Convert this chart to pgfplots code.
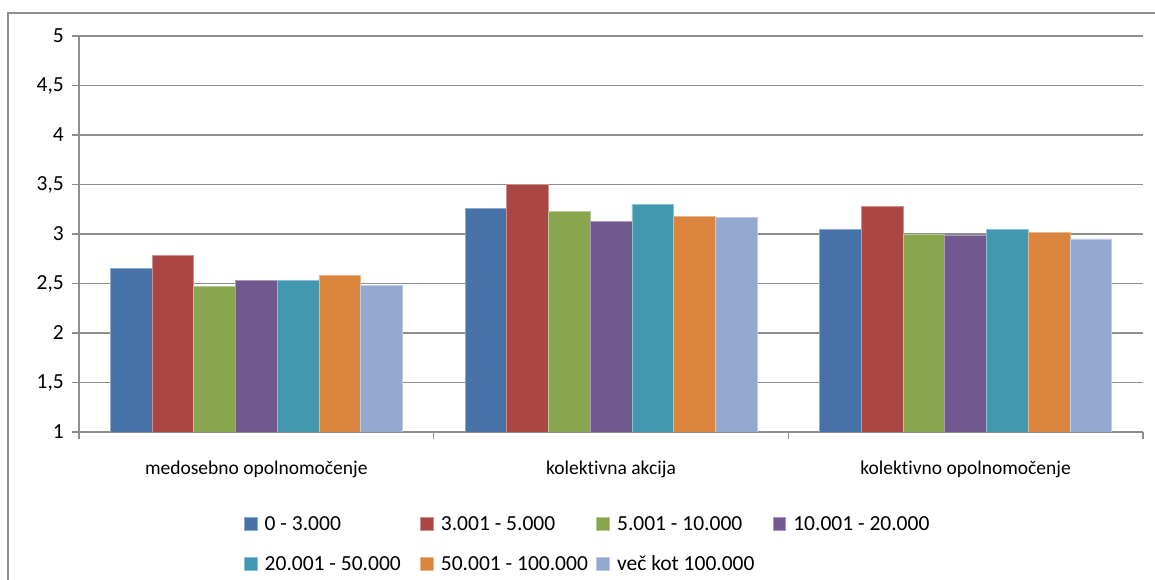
\documentclass[border=0pt]{standalone}
\usepackage{pgfplots}
\pgfplotsset{compat=1.18}
\usepackage{fontspec}
\setmainfont[Ligatures=NoCommon]{Carlito}
\definecolor{c1}{HTML}{4672A8}
\definecolor{c2}{HTML}{AA4643}
\definecolor{c3}{HTML}{89A54E}
\definecolor{c4}{HTML}{71588F}
\definecolor{c5}{HTML}{4198AF}
\definecolor{c6}{HTML}{DB843D}
\definecolor{c7}{HTML}{93A9CF}
\definecolor{gridc}{HTML}{8E8E8E}
\newcommand{\lt}[1]{\makebox[163bp][l]{\hspace{7.5bp}#1}}
\begin{document}
\begin{tikzpicture}[x=1bp,y=1bp]
\path[use as bounding box] (0,0) rectangle (1155,580);
\draw[gridc, line width=1.3bp] (8,-10) -- (8,567) -- (1170,567);
\begin{axis}[
  at={(79bp,148bp)}, anchor=south west,
  scale only axis, width=1064bp, height=396bp,
  xmin=-0.5, xmax=2.5, ymin=1, ymax=5,
  ybar=0pt, bar width=0.1176,
  axis x line=bottom, axis y line=left,
  axis line style={-, gridc, line width=1.3bp},
  ytick={1,1.5,...,5},
  ymajorgrids, grid style={gridc, line width=1.3bp},
  tick align=outside,
  major tick length=7bp,
  tick style={gridc, line width=1.3bp},
  xtick={-0.5,0.5,1.5,2.5}, xticklabels={},
  extra x ticks={0,1,2},
  extra x tick labels={medosebno opolnomočenje, kolektivna akcija, kolektivno opolnomočenje},
  extra x tick style={tick style={draw=none}},
  x tick label style={anchor=north, inner sep=0pt, text height=13bp, yshift=-22bp, font=\fontsize{19.5bp}{23bp}\selectfont},
  y tick label style={anchor=east, inner sep=0pt, xshift=-8bp, font=\fontsize{21.5bp}{25bp}\selectfont},
  /pgf/number format/.cd, use comma, assume math mode=true,
  /pgfplots/.cd,
  legend columns=4,
  legend style={at={(0.15508,-0.21338)}, anchor=north west, draw=none,
    inner sep=0pt, outer sep=0pt, row sep=26bp, column sep=0pt,
    font=\fontsize{21.5bp}{25bp}\selectfont,
    nodes={inner sep=0pt, text height=14bp, text depth=0bp, anchor=west}},
  legend image code/.code={\fill[#1] (0bp,-6.5bp) rectangle (12.5bp,6bp);},
  every axis plot/.append style={line width=0.7bp},
]
\addplot[fill=c1, draw=c1!60!white] coordinates {(0,2.65) (1,3.26) (2,3.05)};
\addlegendentry{\lt{0 - 3.000}}
\addplot[fill=c2, draw=c2!60!white] coordinates {(0,2.78) (1,3.50) (2,3.28)};
\addlegendentry{\lt{3.001 - 5.000}}
\addplot[fill=c3, draw=c3!60!white] coordinates {(0,2.47) (1,3.23) (2,3.00)};
\addlegendentry{\lt{5.001 - 10.000}}
\addplot[fill=c4, draw=c4!60!white] coordinates {(0,2.53) (1,3.13) (2,2.99)};
\addlegendentry{\lt{10.001 - 20.000}}
\addplot[fill=c5, draw=c5!60!white] coordinates {(0,2.53) (1,3.30) (2,3.05)};
\addlegendentry{\lt{20.001 - 50.000}}
\addplot[fill=c6, draw=c6!60!white] coordinates {(0,2.58) (1,3.18) (2,3.02)};
\addlegendentry{\lt{50.001 - 100.000}}
\addplot[fill=c7, draw=c7!60!white] coordinates {(0,2.48) (1,3.17) (2,2.95)};
\addlegendentry{\lt{več kot 100.000}}
\end{axis}
\end{tikzpicture}
\end{document}
